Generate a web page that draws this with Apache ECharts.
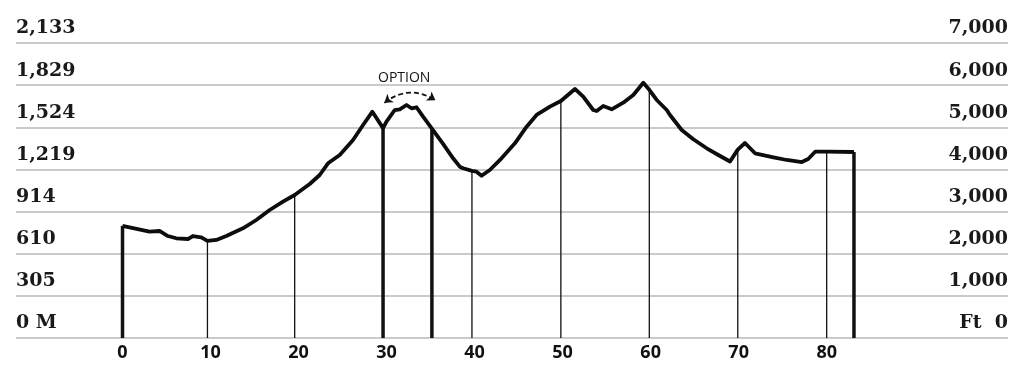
<!DOCTYPE html>
<html><head><meta charset="utf-8">
<script src="https://cdn.jsdelivr.net/npm/echarts@6/dist/echarts.min.js"></script>
<style>html,body{margin:0;padding:0;background:#fff}#c{width:1024px;height:390px}</style>
</head><body><div id="c"></div>
<script>
// Elevation profile: [mile, elevation in feet]
const profileMiles = [0, 3.07, 4.21, 5.15, 6.11, 7.43, 7.99, 8.95, 9.65, 10.66, 11.79, 13.68, 15.2, 16.72, 18.23, 19.56, 21.27, 22.4, 23.35, 24.68, 26.19, 27.33, 28.39, 29.6, 29.99, 30.93, 31.5, 32.26, 32.83, 33.4, 34.15, 35.15, 36.42, 37.56, 38.32, 38.7, 39.7, 40.22, 40.79, 41.73, 43.06, 44.58, 45.91, 47.04, 48.56, 49.8, 51.4, 52.34, 53.48, 53.87, 54.62, 55.57, 56.89, 58.03, 59.17, 59.85, 60.69, 61.83, 62.2, 63.53, 64.85, 66.37, 67.89, 69.02, 69.9, 70.72, 71.86, 73.95, 75.47, 77.18, 77.9, 78.69, 80.0, 83.1];
const profileFeet  = [2660, 2522, 2539, 2420, 2366, 2349, 2420, 2390, 2302, 2326, 2420, 2603, 2800, 3037, 3234, 3393, 3654, 3868, 4146, 4343, 4699, 5054, 5370, 4980, 5133, 5410, 5427, 5529, 5451, 5475, 5251, 4970, 4604, 4264, 4065, 4027, 3965, 3946, 3851, 3987, 4264, 4620, 5014, 5292, 5489, 5624, 5909, 5726, 5410, 5387, 5505, 5427, 5584, 5766, 6058, 5890, 5648, 5410, 5292, 4936, 4715, 4502, 4319, 4188, 4470, 4627, 4383, 4288, 4224, 4176, 4248, 4421, 4421, 4414];
// Vertical markers: mile, elevation (ft), thick flag
const markerMiles = [0, 9.65, 19.56, 29.6, 35.15, 39.7, 49.8, 59.85, 69.9, 80.0, 83.1];
const markerFeet  = [2660, 2302, 3393, 4980, 4970, 3965, 5624, 5890, 4470, 4421, 4414];
const markerThick = [1, 0, 0, 1, 1, 0, 0, 0, 0, 0, 1];
// Axis labels
const xTickLabels = [0, 10, 20, 30, 40, 50, 60, 70, 80];
const meterLabels = ['0 M', '305', '610', '914', '1,219', '1,524', '1,829', '2,133'];
const feetLabels  = ['Ft  0', '1,000', '2,000', '3,000', '4,000', '5,000', '6,000', '7,000'];
// Option arc endpoints [mile, ft]
const optionArc = [[29.75, 5580], [35.55, 5640]];
const optionText = 'OPTION';

const chart = echarts.init(document.getElementById('c'), null, {renderer: 'canvas'});
const profile = profileMiles.map((m, i) => [m, profileFeet[i]]);
const markers = markerMiles.map((m, i) => [m, markerFeet[i], markerThick[i]]);
const yLabelFont = {fontFamily: 'DejaVu Serif', fontWeight: 'bold', fontSize: 19, color: '#1a1a1a'};

chart.setOption({
  animation: false,
  grid: {left: 16, right: 16, top: 43, bottom: 52},
  xAxis: {
    type: 'value', min: -12.1, max: 100.6,
    axisLine: {show: false}, axisTick: {show: false}, splitLine: {show: false},
    axisLabel: {
      customValues: xTickLabels, margin: 6,
      fontFamily: 'Open Sans', fontWeight: 'bold', fontSize: 18, color: '#111'
    }
  },
  yAxis: [
    {
      type: 'value', position: 'left', min: 0, max: 7000, interval: 1000,
      axisLine: {show: false}, axisTick: {show: false},
      splitLine: {show: true, lineStyle: {color: '#b8b8b8', width: 1.5}},
      axisLabel: Object.assign({
        inside: true, margin: 0, verticalAlign: 'bottom', padding: [0, 0, 5, 0],
        formatter: (v) => meterLabels[Math.round(v / 1000)]
      }, yLabelFont)
    },
    {
      type: 'value', position: 'right', min: 0, max: 7000, interval: 1000,
      axisLine: {show: false}, axisTick: {show: false}, splitLine: {show: false},
      axisLabel: Object.assign({
        inside: true, margin: 0, verticalAlign: 'bottom', padding: [0, 0, 5, 0],
        formatter: (v) => feetLabels[Math.round(v / 1000)]
      }, yLabelFont)
    }
  ],
  series: [
    {
      type: 'custom', z: 2, data: markers, encode: {x: 0, y: 1},
      renderItem: (params, api) => {
        const x = api.value(0), v = api.value(1), t = api.value(2);
        const p0 = api.coord([x, 0]), p1 = api.coord([x, v]);
        return {type: 'line', shape: {x1: p0[0], y1: p0[1], x2: p1[0], y2: p1[1]},
          style: {stroke: '#111', lineWidth: t ? 3.5 : 1.3}};
      }
    },
    {
      type: 'line', z: 3, data: profile, symbol: 'none', smooth: false,
      lineStyle: {color: '#0d0d0d', width: 3.8, join: 'round'}
    },
    {
      type: 'lines', coordinateSystem: 'cartesian2d', z: 4,
      symbol: ['arrow', 'arrow'], symbolSize: 8,
      itemStyle: {color: '#111'},
      lineStyle: {color: '#111', width: 1.8, type: [5, 3], curveness: 0.35, opacity: 1},
      data: [{coords: optionArc}]
    }
  ],
  graphic: [{
    type: 'text', left: 378, top: 71,
    style: {text: optionText, fontFamily: 'Open Sans', fontSize: 14, fontWeight: 500, fill: '#111', letterSpacing: 1.5}
  }]
});
</script></body></html>
